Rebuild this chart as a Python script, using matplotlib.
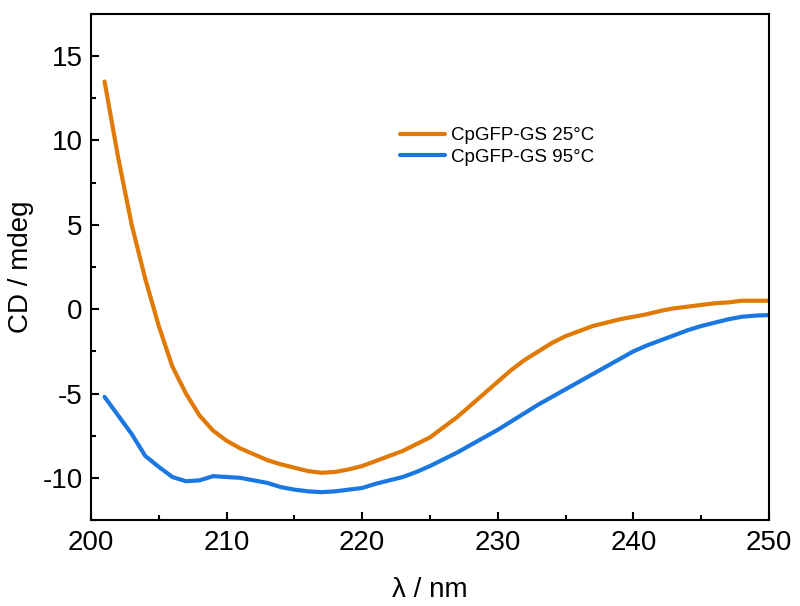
import matplotlib
matplotlib.use("Agg")
import matplotlib.pyplot as plt
from matplotlib.ticker import MultipleLocator

plt.rcParams['font.family'] = ['Liberation Sans', 'DejaVu Sans']
plt.rcParams['axes.unicode_minus'] = False

wavelength = list(range(201, 251))
cd_25 = [13.5, 9.0, 5.0, 1.8, -1.0, -3.4, -5.0, -6.3, -7.2, -7.8,
         -8.25, -8.6, -8.95, -9.2, -9.4, -9.6, -9.7, -9.65, -9.5, -9.3,
         -9.0, -8.7, -8.4, -8.0, -7.6, -7.0, -6.4, -5.7, -5.0, -4.3,
         -3.6, -3.0, -2.5, -2.0, -1.6, -1.3, -1.0, -0.8, -0.6, -0.45,
         -0.3, -0.1, 0.05, 0.15, 0.25, 0.35, 0.4, 0.5, 0.5, 0.5]
cd_95 = [-5.2, -6.3, -7.4, -8.7, -9.35, -9.95, -10.2, -10.15, -9.9, -9.95,
         -10.0, -10.15, -10.3, -10.55, -10.7, -10.8, -10.85, -10.8, -10.7, -10.6,
         -10.35, -10.15, -9.95, -9.65, -9.3, -8.9, -8.5, -8.05, -7.6, -7.15,
         -6.65, -6.15, -5.65, -5.2, -4.75, -4.3, -3.85, -3.4, -2.95, -2.5,
         -2.15, -1.85, -1.55, -1.25, -1.0, -0.8, -0.6, -0.45, -0.38, -0.35]
labels = ["CpGFP-GS 25°C", "CpGFP-GS 95°C"]
colors = ["#E07A05", "#1A78E0"]

fig = plt.figure(figsize=(8, 6.06), dpi=100)
ax = fig.add_axes([91/800, 1-520/606, (769-91)/800, (520-14)/606])

ax.plot(wavelength, cd_25, color=colors[0], lw=3, label=labels[0],
        solid_capstyle='round', solid_joinstyle='round')
ax.plot(wavelength, cd_95, color=colors[1], lw=3, label=labels[1],
        solid_capstyle='round', solid_joinstyle='round')

ax.set_xlim(200, 250)
ax.set_ylim(-12.5, 17.5)
ax.xaxis.set_major_locator(MultipleLocator(10))
ax.xaxis.set_minor_locator(MultipleLocator(5))
ax.yaxis.set_major_locator(MultipleLocator(5))
ax.yaxis.set_minor_locator(MultipleLocator(2.5))
ax.tick_params(which='both', direction='in', width=1.5, labelsize=20, top=False, right=False)
ax.tick_params(which='major', length=6)
ax.tick_params(which='minor', length=3.5)
ax.tick_params(axis='x', which='major', pad=7)
ax.tick_params(axis='y', which='major', pad=6)
for s in ax.spines.values():
    s.set_linewidth(1.5)

ax.set_xlabel("λ / nm", fontsize=20)
ax.set_ylabel("CD / mdeg", fontsize=20)
ax.xaxis.set_label_coords(0.5, -0.112)
ax.yaxis.set_label_coords(-0.084, 0.5)

leg = ax.legend(loc='upper left', bbox_to_anchor=(400/800, 1-127/606),
                bbox_transform=fig.transFigure, frameon=False, fontsize=13.5,
                handlelength=2.4, handletextpad=0.3, labelspacing=0.25,
                borderpad=0, borderaxespad=0)

fig.savefig("out.png", dpi=100)
